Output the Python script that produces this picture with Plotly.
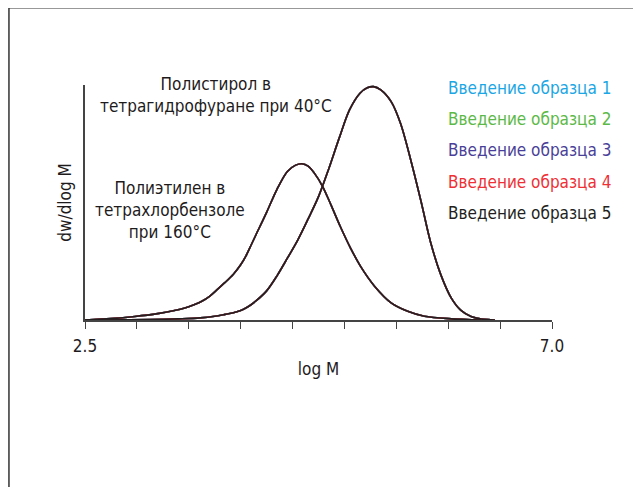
import plotly.graph_objects as go

# ---- data ----
log_m_pe = [2.50, 2.75, 2.98, 3.20, 3.35, 3.47, 3.55, 3.63, 3.70, 3.77, 3.85, 3.93, 4.00,
            4.05, 4.10, 4.15, 4.25, 4.35, 4.45, 4.53, 4.59, 4.65, 4.71, 4.79, 4.87, 4.96,
            5.06, 5.16, 5.29, 5.45, 5.61, 5.77, 6.03, 6.32]
dw_pe = [0.0, 0.006, 0.015, 0.027, 0.039, 0.052, 0.065, 0.081, 0.101, 0.128, 0.160, 0.195, 0.235,
         0.272, 0.318, 0.365, 0.458, 0.556, 0.632, 0.659, 0.665, 0.655, 0.625, 0.568, 0.490, 0.398,
         0.305, 0.225, 0.144, 0.073, 0.037, 0.016, 0.005, 0.0]

log_m_ps = [2.50, 2.90, 3.13, 3.40, 3.61, 3.75, 3.85, 3.93, 4.00, 4.05, 4.10, 4.15, 4.25,
            4.35, 4.45, 4.55, 4.65, 4.75, 4.85, 4.95, 5.05, 5.15, 5.22, 5.28, 5.35, 5.45,
            5.54, 5.64, 5.74, 5.83, 5.93, 6.03, 6.12, 6.22, 6.32, 6.41, 6.45]
dw_ps = [0.0, 0.001, 0.002, 0.005, 0.009, 0.016, 0.024, 0.031, 0.040, 0.051, 0.065, 0.082, 0.124,
         0.188, 0.263, 0.340, 0.430, 0.525, 0.645, 0.775, 0.895, 0.965, 0.988, 0.993, 0.979, 0.929,
         0.837, 0.679, 0.501, 0.331, 0.191, 0.093, 0.042, 0.015, 0.004, 0.001, 0.0]

injections = ["Введение образца 1", "Введение образца 2", "Введение образца 3",
              "Введение образца 4", "Введение образца 5"]
colors = ["#1BA6E4", "#5CB947", "#4A3F98", "#EE3035", "#231F20"]

x_tick_vals = [2.5, 3.0, 3.5, 4.0, 4.5, 5.0, 5.5, 6.0, 6.5, 7.0]
x_tick_text = ["2.5", "", "", "", "", "", "", "", "", "7.0"]

label_ps = "Полистирол в<br>тетрагидрофуране при 40°C"
label_pe = "Полиэтилен в<br>тетрахлорбензоле<br>при 160°C"

FONT = "DejaVu Sans Condensed, Liberation Sans Narrow, Roboto, sans-serif"
TXT = "#1E1B1C"
FS = 17

fig = go.Figure()
for name, col in zip(injections, colors):
    for xs, ys in ((log_m_pe, dw_pe), (log_m_ps, dw_ps)):
        fig.add_trace(go.Scatter(x=xs, y=ys, mode="lines", name=name,
                                 line=dict(color=col, width=1.6, shape="spline", smoothing=0.9),
                                 showlegend=False, hoverinfo="skip"))

OFF = 8  # page body margin
W, H = 641, 487
# target plot area in screenshot pixels
PX0, PX1, PY0, PY1 = 85, 551.7, 85, 320.5
L = PX0 - OFF
T = PY0 - OFF
R = W - (PX1 - OFF)
B = H - (PY1 - OFF)
pw, ph = PX1 - PX0, PY1 - PY0

def px(xs):
    return (xs - PX0) / pw

def py(ys):
    return (PY1 - ys) / ph

# legend as coloured text
for i, (name, col) in enumerate(zip(injections, colors)):
    fig.add_annotation(text=name, xref="paper", yref="paper", x=px(446), y=py(88 + 31.3 * i),
                       xanchor="left", yanchor="middle", showarrow=False,
                       font=dict(family=FONT, size=FS, color=col))

fig.add_annotation(text=label_ps, xref="paper", yref="paper", x=px(216), y=py(95),
                   xanchor="center", yanchor="middle", showarrow=False, align="center",
                   font=dict(family=FONT, size=FS, color=TXT))
fig.add_annotation(text=label_pe, xref="paper", yref="paper", x=px(170), y=py(210),
                   xanchor="center", yanchor="middle", showarrow=False, align="center",
                   font=dict(family=FONT, size=FS, color=TXT))

# outer frame (top and left edges visible)
fig.add_shape(type="line", xref="paper", yref="paper", x0=px(9), x1=px(660), y0=py(7.5), y1=py(7.5),
              line=dict(color="#333333", width=1.5))
fig.add_shape(type="line", xref="paper", yref="paper", x0=px(9), x1=px(9), y0=py(7.5), y1=py(500),
              line=dict(color="#333333", width=1.5))

fig.update_layout(
    width=W, height=H,
    margin=dict(l=L, r=R, t=T, b=B),
    paper_bgcolor="white", plot_bgcolor="white",
    font=dict(family=FONT, size=FS, color=TXT),
    xaxis=dict(range=[2.5, 7.0], tickvals=x_tick_vals, ticktext=x_tick_text,
               ticks="outside", ticklen=7, tickwidth=1.2, tickcolor="#444444",
               ticklabelstandoff=3,
               showline=True, linecolor="#444444", linewidth=1.5, showgrid=False,
               zeroline=False, tickfont=dict(family=FONT, size=FS, color=TXT),
               title=dict(text="log M", font=dict(family=FONT, size=FS, color=TXT), standoff=8)),
    yaxis=dict(range=[0, 1.0], showticklabels=False, ticks="", showline=True,
               linecolor="#444444", linewidth=1.5, showgrid=False, zeroline=False,
               title=dict(text="dw/dlog M", font=dict(family=FONT, size=FS, color=TXT), standoff=7)),
)

fig.write_html("out.html")
